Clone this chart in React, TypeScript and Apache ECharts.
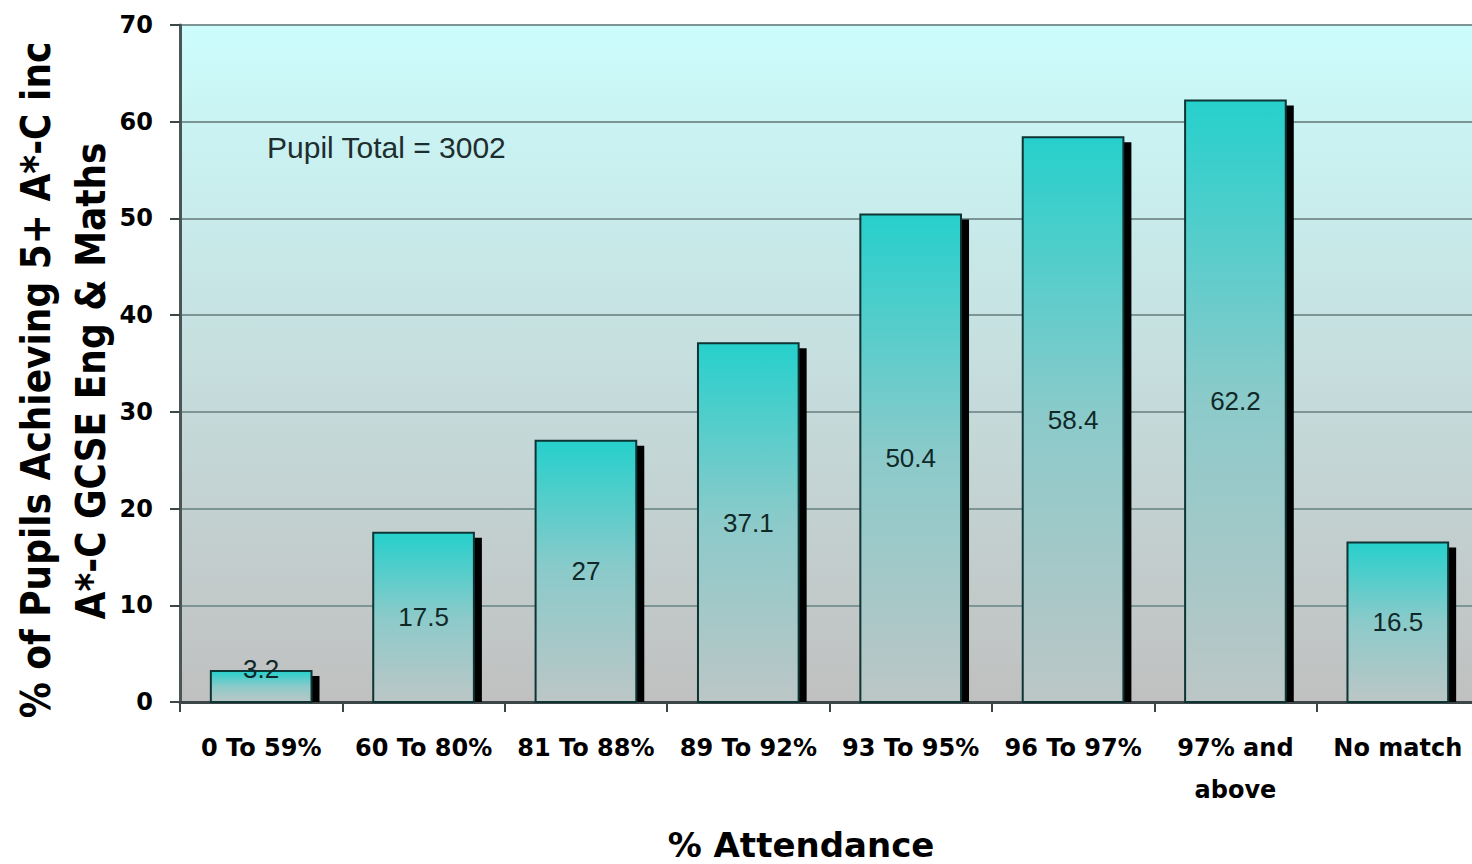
import React, { useEffect, useRef } from "react";
import * as echarts from "echarts";

const categories = [
  "0 To 59%",
  "60 To 80%",
  "81 To 88%",
  "89 To 92%",
  "93 To 95%",
  "96 To 97%",
  "97% and\nabove",
  "No match",
];
const values = [3.2, 17.5, 27, 37.1, 50.4, 58.4, 62.2, 16.5];
const yMin = 0;
const yMax = 70;
const yStep = 10;
const yAxisTitleLines = ["% of Pupils Achieving 5+ A*-C inc", "A*-C GCSE Eng & Maths"];
const xAxisTitle = "% Attendance";
const noteText = "Pupil Total = 3002";

export default function App() {
  const ref = useRef<HTMLDivElement>(null);

  useEffect(() => {
    if (!ref.current) return;
    const chart = echarts.init(ref.current, undefined, { renderer: "svg" });

    const barGradient = () =>
      new echarts.graphic.LinearGradient(0, 0, 0, 1, [
        { offset: 0, color: "#26d0cc" },
        { offset: 0.5, color: "#8ccaca" },
        { offset: 1, color: "#bcc6c6" },
      ]);

    const option: any = {
      animation: false,
      backgroundColor: "#ffffff",
      grid: {
        left: 180,
        right: 0,
        top: 25,
        bottom: 162,
        show: true,
        borderWidth: 0,
        backgroundColor: new echarts.graphic.LinearGradient(0, 0, 0, 1, [
          { offset: 0, color: "#ccfcfc" },
          { offset: 1, color: "#c0c0c0" },
        ]),
      },
      xAxis: {
        type: "category",
        data: categories,
        boundaryGap: true,
        axisLine: { show: true, lineStyle: { color: "#3c4646", width: 3 } },
        axisTick: { show: true, length: 10, alignWithLabel: false, lineStyle: { color: "#3c4646", width: 2 } },
        axisLabel: {
          interval: 0,
          margin: 25,
          color: "#000",
          fontFamily: "DejaVu Sans",
          fontWeight: "bold",
          fontSize: 24,
          lineHeight: 42,
        },
        splitLine: { show: false },
      },
      yAxis: {
        type: "value",
        min: yMin,
        max: yMax,
        interval: yStep,
        axisLine: { show: true, lineStyle: { color: "#4a5656", width: 3 } },
        axisTick: { show: true, length: 10, lineStyle: { color: "#3c4646", width: 2 } },
        axisLabel: {
          margin: 27,
          color: "#000",
          fontFamily: "DejaVu Sans",
          fontWeight: "bold",
          fontSize: 24,
        },
        splitLine: { show: true, lineStyle: { color: "#7d9595", width: 2 } },
      },
      graphic: [
        {
          type: "text",
          x: 36,
          y: 380,
          rotation: Math.PI / 2,
          scaleY: 1.15,
          style: {
            text: yAxisTitleLines[0],
            fill: "#000",
            font: 'bold 36px "DejaVu Sans"',
            align: "center",
            verticalAlign: "middle",
          },
        },
        {
          type: "text",
          x: 91,
          y: 381,
          rotation: Math.PI / 2,
          scaleY: 1.15,
          style: {
            text: yAxisTitleLines[1],
            fill: "#000",
            font: 'bold 36px "DejaVu Sans"',
            align: "center",
            verticalAlign: "middle",
          },
        },
        {
          type: "text",
          x: 801,
          y: 845,
          style: {
            text: xAxisTitle,
            fill: "#000",
            font: 'bold 34px "DejaVu Sans"',
            align: "center",
            verticalAlign: "middle",
          },
        },
        {
          type: "text",
          x: 267,
          y: 147,
          style: {
            text: noteText,
            fill: "#1e2e2e",
            font: '30px "Liberation Sans"',
            align: "left",
            verticalAlign: "middle",
          },
        },
      ],
      series: [
        {
          type: "custom",
          data: values.map((v, i) => [i, v]),
          encode: { x: 0, y: 1 },
          clip: false,
          renderItem: (params: any, api: any) => {
            const idx = api.value(0);
            const v = api.value(1);
            const top = api.coord([idx, v]);
            const base = api.coord([idx, 0]);
            const catW = api.size([1, 0])[0];
            const w = catW * 0.62;
            const x = top[0] - w / 2;
            const y = top[1];
            const h = base[1] - top[1];
            const sx = 8;
            const sy = 5;
            const labelY = h < 40 ? y - 2 : y + h / 2;
            return {
              type: "group",
              children: [
                {
                  type: "rect",
                  shape: { x: x + sx, y: y + sy, width: w, height: Math.max(0, h - sy) },
                  style: { fill: "#000000" },
                },
                {
                  type: "rect",
                  shape: { x, y, width: w, height: h },
                  style: { fill: barGradient(), stroke: "#0e3434", lineWidth: 2 },
                },
                {
                  type: "text",
                  x: top[0],
                  y: labelY,
                  style: {
                    text: String(v),
                    fill: "#102828",
                    font: '26px "Liberation Sans"',
                    align: "center",
                    verticalAlign: "middle",
                  },
                },
              ],
            };
          },
        },
      ],
    };

    chart.setOption(option);
    return () => {
      chart.dispose();
    };
  }, []);

  return (
    <div
      style={{ position: "absolute", left: 0, top: 0, width: 1472, height: 864, overflow: "hidden" }}
    >
      <div ref={ref} style={{ width: 1479, height: 864 }} />
    </div>
  );
}
